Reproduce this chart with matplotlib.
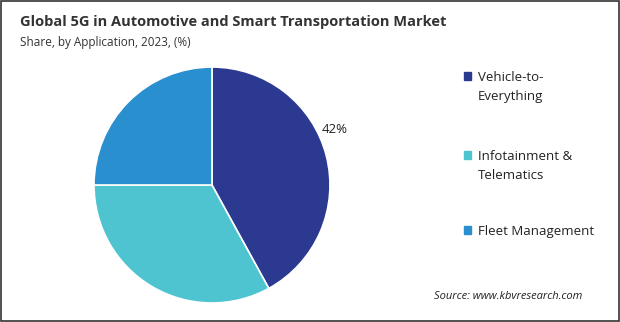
import matplotlib.pyplot as plt
import numpy as np
from matplotlib.patches import Rectangle

plt.rcParams['font.family'] = ['Open Sans', 'DejaVu Sans']

labels = ['Vehicle-to-\nEverything', 'Infotainment &\nTelematics', 'Fleet Management']
shares = [42, 33, 25]
colors = ['#2B3990', '#4EC4D0', '#2A8FCF']

fig = plt.figure(figsize=(6.2, 3.22), dpi=100)

ax = fig.add_axes([0.1516, 0.059, 0.3806, 0.7329])
wedges, _ = ax.pie(shares, colors=colors, startangle=90, counterclock=False,
                   wedgeprops=dict(edgecolor='white', linewidth=1.2))
ax.set_xlim(-1, 1)
ax.set_ylim(-1, 1)
ax.set_aspect('equal')

# percentage label only for the largest slice
w = wedges[0]
ang = np.deg2rad((w.theta1 + w.theta2) / 2 + 10)
ax.text(1.14 * np.cos(ang), 1.14 * np.sin(ang), f'{shares[0]}%',
        ha='center', va='center', fontsize=9.5, color='#222222')

fig.text(0.032, 0.932, 'Global 5G in Automotive and Smart Transportation Market',
         fontsize=10.5, fontweight='bold', color='#333333', va='center')
fig.text(0.032, 0.868, 'Share, by Application, 2023, (%)',
         fontsize=8.5, color='#333333', va='center')

# legend: square sits next to the first line of each label
leg_y = [0.764, 0.519, 0.286]
for lab, col, y in zip(labels, colors, leg_y):
    fig.patches.append(Rectangle((0.748, y - 0.012), 0.012, 0.024,
                                 transform=fig.transFigure, color=col))
    fig.text(0.771, y + 0.015, lab, fontsize=9.5, color='#222222', va='top',
             linespacing=1.55)

fig.text(0.94, 0.08, 'Source: www.kbvresearch.com', fontsize=8, style='italic',
         color='#222222', ha='right', va='center')

fig.patches.append(Rectangle((0.001, 0.002), 0.997, 0.995, transform=fig.transFigure,
                             fill=False, edgecolor='#333333', linewidth=1.2))

fig.savefig('out.png', dpi=100)
